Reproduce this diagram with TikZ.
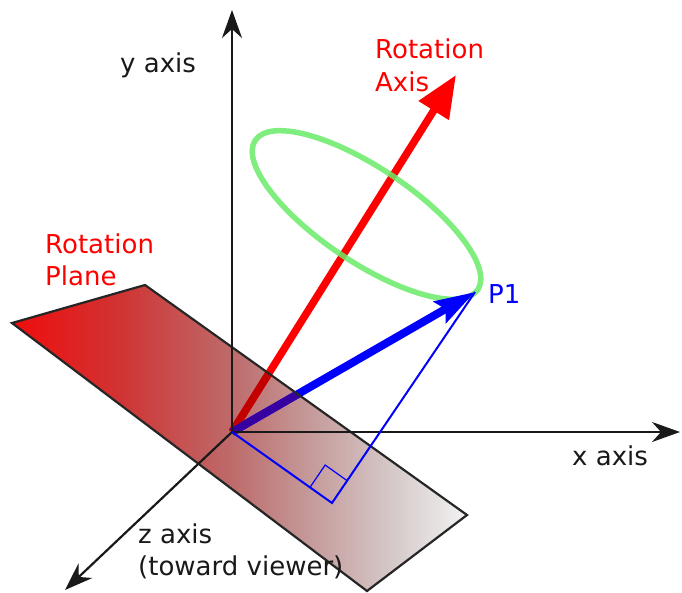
\documentclass[tikz,border=0pt]{standalone}
\usepackage{fontspec}
\setmainfont{DejaVu Sans}
\usetikzlibrary{arrows.meta,calc}
\definecolor{pA}{RGB}{240,12,12}
\definecolor{pB}{RGB}{208,52,52}
\definecolor{pC}{RGB}{190,106,106}
\definecolor{pD}{RGB}{196,150,150}
\definecolor{pE}{RGB}{214,202,202}
\definecolor{pF}{RGB}{242,242,242}
\pgfdeclarehorizontalshading{planeshade}{100bp}{color(0bp)=(pA); color(25bp)=(pA); color(37bp)=(pB); color(49bp)=(pC); color(57bp)=(pD); color(67bp)=(pE); color(75bp)=(pF); color(100bp)=(pF)}
\definecolor{ringgreen}{RGB}{105,235,105}
\definecolor{axisgray}{RGB}{25,25,25}
\definecolor{darkred}{RGB}{195,0,0}
\definecolor{darkblue}{RGB}{55,0,160}
\begin{document}
\begin{tikzpicture}[x=1pt,y=-1pt,
  font=\fontsize{26}{32}\selectfont,
  axisline/.style={line width=2.2pt, draw=axisgray, -{Stealth[length=28pt,width=20pt,inset=9pt]}},
  lbl/.style={inner sep=0pt, anchor=base west},
  redshaft/.style={line width=7.5pt},
  blueshaft/.style={line width=8pt},
]
\useasboundingbox (0,0) rectangle (682,592);
% points
\coordinate (O) at (232,432);
\coordinate (Ytip) at (232,10);
\coordinate (Xtip) at (680,432);
\coordinate (Ztip) at (65,590);
\coordinate (Rtip) at (456,75);
\coordinate (P1) at (475,292);
\coordinate (F) at (332,503);
\coordinate (PL) at (12,323);
\coordinate (PT) at (145,285);
\coordinate (PR) at (467,515);
\coordinate (PB) at (367,591);
% plane
\shade[shading=planeshade] (PL) -- (PT) -- (PR) -- (PB) -- cycle;
% rotation axis
\draw[redshaft, red, -{Triangle[length=42pt,width=34pt]}] (O) -- (Rtip);
% ring
\draw[ringgreen, line width=5.5pt, opacity=0.85, shift={(366.5,215)}, rotate=-33.9]
  (0,0) ellipse [x radius=134, y radius=47];
% vector P1
\draw[blueshaft, blue, -{Stealth[length=40pt,width=24pt,inset=6pt]}] (O) -- (P1);
% arrows seen through the plane
\begin{scope}
  \clip (PL) -- (PT) -- (PR) -- (PB) -- cycle;
  \draw[redshaft, darkred] (O) -- ($(O)!0.5!(Rtip)$);
  \draw[blueshaft, darkblue] (O) -- ($(O)!0.5!(P1)$);
\end{scope}
\draw[line width=2.2pt, black!85, line join=miter] (PL) -- (PT) -- (PR) -- (PB) -- cycle;
% axes
\draw[axisline] (O) -- (Ytip);
\draw[axisline] (O) -- (Xtip);
\draw[axisline] (O) -- (Ztip);
% projection
\draw[blue, line width=2pt] (O) -- (F) -- (P1);
\coordinate (MA) at ($(F)!27pt!(O)$);
\coordinate (MB) at ($(F)!27pt!(P1)$);
\draw[blue, line width=1.2pt] (MA) -- ($(MA)+(MB)-(F)$) -- (MB);
% labels
\node[lbl, text=axisgray] (ylab) at (120,72) {y axis};
\node[lbl, text=axisgray] (xlab) at (572,465) {x axis};
\node[lbl, text=axisgray] (zlab1) at (138,543) {z axis};
\node[lbl, text=axisgray] (zlab2) at (138,575) {(toward viewer)};
\node[lbl, text=red] (ralab1) at (375,58) {Rotation};
\node[lbl, text=red] (ralab2) at (375,91) {Axis};
\node[lbl, text=red] (rplab1) at (45,253) {Rotation};
\node[lbl, text=red] (rplab2) at (45,285) {Plane};
\node[lbl, text=blue] (p1lab) at (488,303) {P1};
\end{tikzpicture}
\end{document}
